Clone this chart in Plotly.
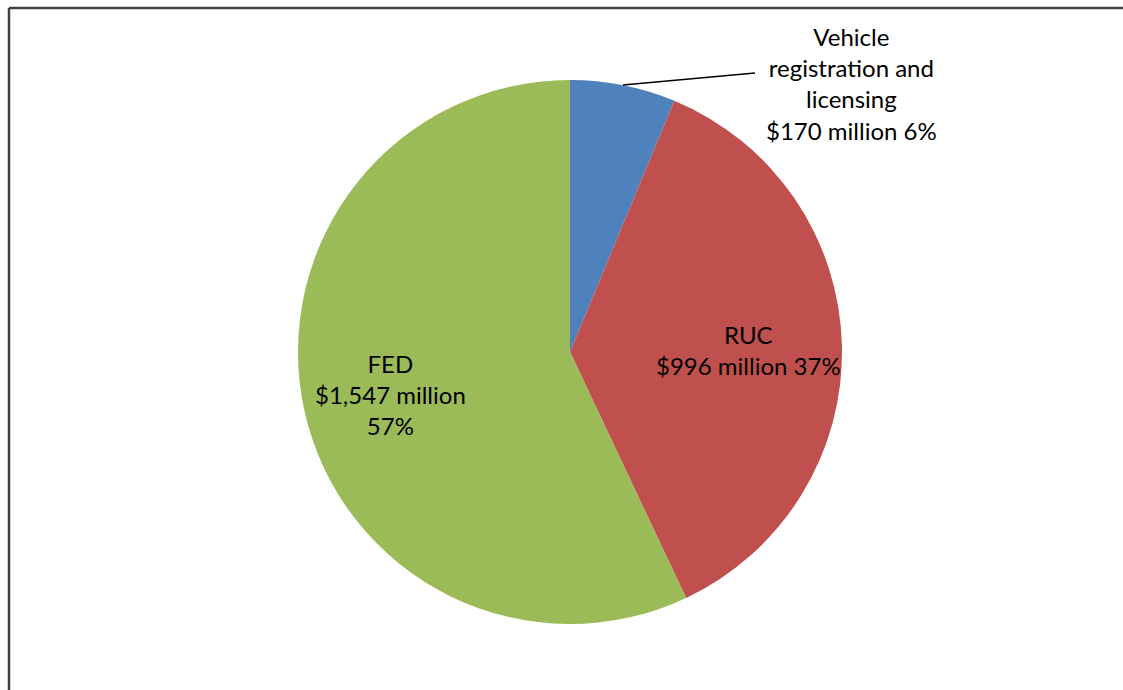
import plotly.graph_objects as go

# Revenue sources (NZ$ million)
categories = ["Vehicle registration and licensing", "RUC", "FED"]
values = [170, 996, 1547]
colors = ["#4F81BD", "#C0504D", "#9BBB59"]

W, H = 1123, 690
total = sum(values)


def px(x):
    return x / W


def py(y):
    return 1 - y / H


def fmt(v):
    return "${:,} million".format(v)


pct = [round(v / total * 100) for v in values]

fig = go.Figure(
    go.Pie(
        labels=categories,
        values=values,
        marker=dict(colors=colors, line=dict(width=0)),
        sort=False,
        direction="clockwise",
        rotation=0,
        textinfo="none",
        hoverinfo="label+value+percent",
        showlegend=False,
        domain=dict(x=[px(570 - 272), px(570 + 272)], y=[py(624), py(80)]),
    )
)

font = dict(family="Lato, Open Sans, sans-serif", size=24, color="#000000")

label_texts = [
    "Vehicle<br>registration and<br>licensing<br>{} {}%".format(fmt(values[0]), pct[0]),
    "RUC<br>{} {}%".format(fmt(values[1]), pct[1]),
    "FED<br>{}<br>{}%".format(fmt(values[2]), pct[2]),
]
label_pos = [(851, 84), (748, 350), (390, 394)]

annotations = []
for t, (x, y) in zip(label_texts, label_pos):
    annotations.append(
        dict(
            text=t, x=px(x), y=py(y), xref="paper", yref="paper",
            showarrow=False, align="center", xanchor="center", yanchor="middle",
            font=font,
        )
    )

shapes = [
    # chart frame (top and left edges)
    dict(type="line", xref="paper", yref="paper", x0=px(9), y0=py(8), x1=1, y1=py(8),
         line=dict(color="#404040", width=2.5)),
    dict(type="line", xref="paper", yref="paper", x0=px(9), y0=py(8), x1=px(9), y1=0,
         line=dict(color="#404040", width=2.5)),
    # leader line for the small slice
    dict(type="line", xref="paper", yref="paper", x0=px(623), y0=py(85), x1=px(755), y1=py(73),
         line=dict(color="#000000", width=1.5)),
]

fig.update_layout(
    width=W, height=H,
    margin=dict(l=0, r=0, t=0, b=0),
    paper_bgcolor="white", plot_bgcolor="white",
    annotations=annotations, shapes=shapes,
)

fig.write_html("out.html")
